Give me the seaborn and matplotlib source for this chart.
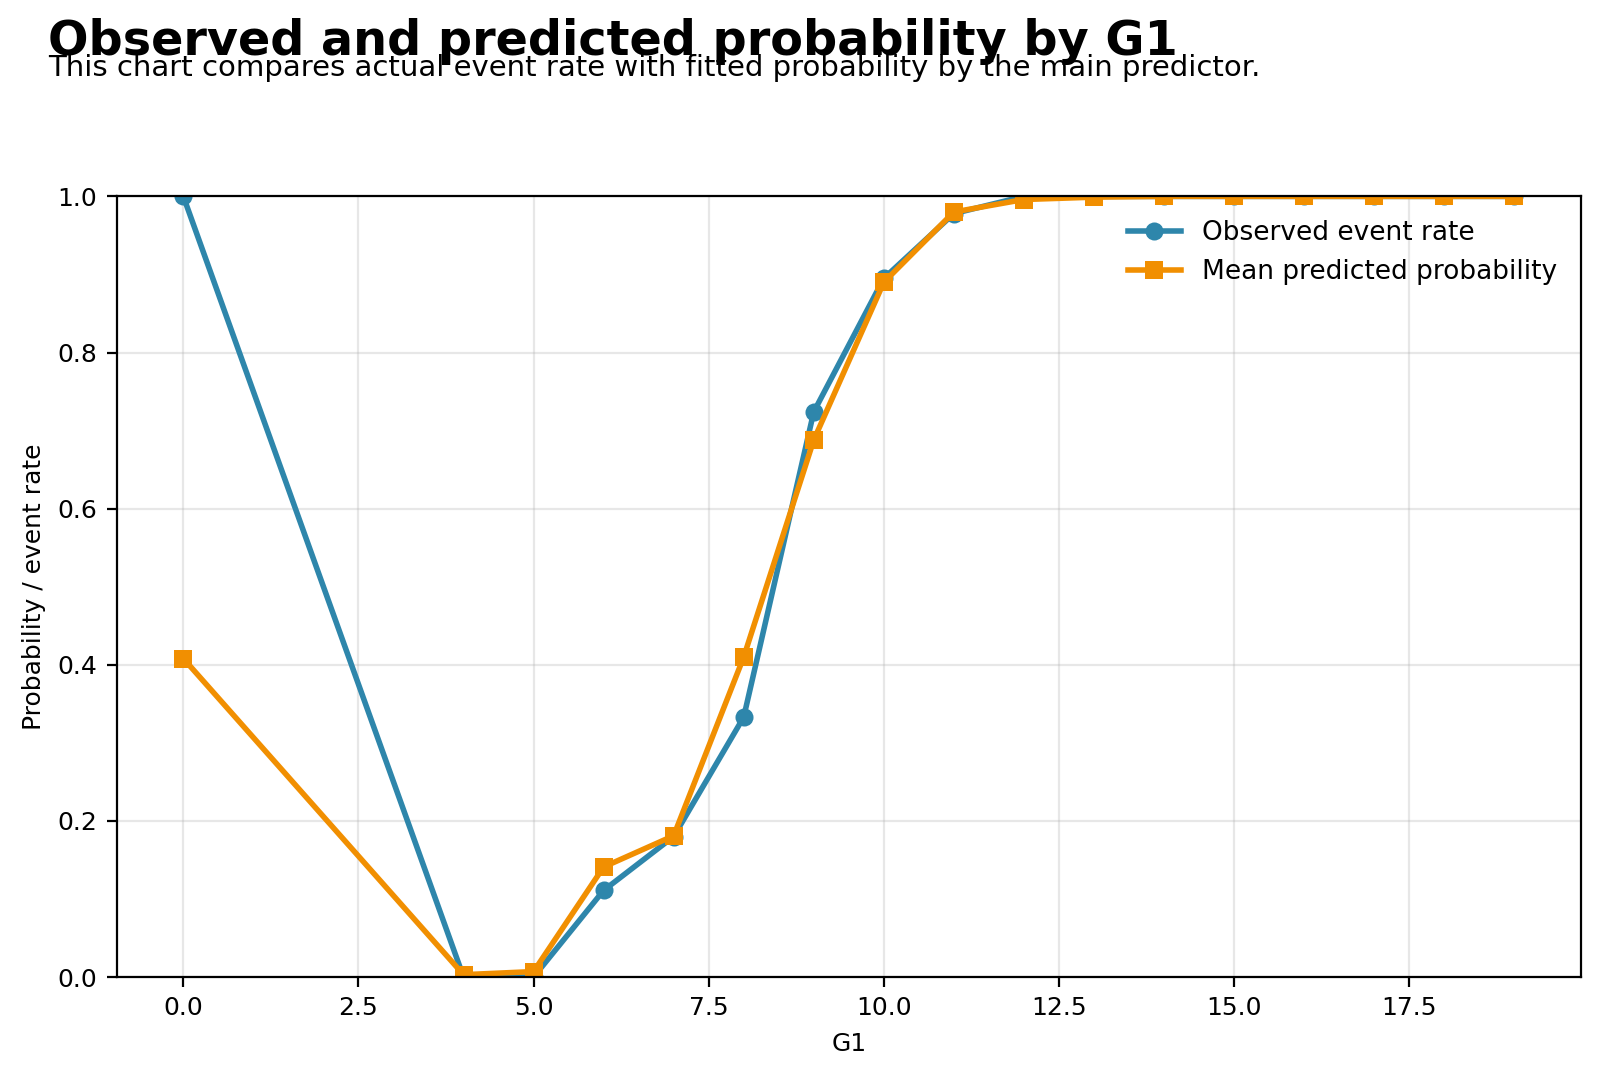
import matplotlib
matplotlib.use("Agg")
import matplotlib.pyplot as plt
import seaborn as sns
import pandas as pd

g1 = [0, 4, 5, 6, 7, 8, 9, 10, 11, 12, 13, 14, 15, 16, 17, 18, 19]
observed = [1.0, 0.0, 0.0, 0.111, 0.18, 0.333, 0.724, 0.895, 0.978, 1.0,
            1.0, 1.0, 1.0, 1.0, 1.0, 1.0, 1.0]
predicted = [0.408, 0.003, 0.007, 0.141, 0.181, 0.41, 0.688, 0.89, 0.98, 0.996,
             0.999, 1.0, 1.0, 1.0, 1.0, 1.0, 1.0]

df = pd.DataFrame({"G1": g1, "observed": observed, "predicted": predicted})

plt.rcParams["font.size"] = 9

fig, ax = plt.subplots(figsize=(8, 5.395), dpi=200)
fig.subplots_adjust(left=0.073, right=0.988, bottom=0.0945, top=0.818)

sns.lineplot(data=df, x="G1", y="observed", ax=ax, color="#2E86AB", marker="o",
             markersize=6.5, linewidth=2.0, markeredgewidth=0, label="Observed event rate")
sns.lineplot(data=df, x="G1", y="predicted", ax=ax, color="#F18F01", marker="s",
             markersize=6.5, linewidth=2.0, markeredgewidth=0, label="Mean predicted probability")

ax.set_ylim(0, 1)
ax.set_xlabel("G1", fontsize=9)
ax.set_ylabel("Probability / event rate", fontsize=9)
ax.tick_params(labelsize=9)
ax.grid(alpha=0.3)
ax.legend(frameon=False, loc="upper right", fontsize=9.5)

fig.text(0.03, 0.949, "Observed and predicted probability by G1", fontsize=17.2,
         fontweight="bold", ha="left", va="baseline")
fig.text(0.03, 0.9295, "This chart compares actual event rate with fitted probability by the main predictor.",
         fontsize=10.5, ha="left", va="baseline")

fig.savefig("out.png", dpi=200)
plt.close(fig)
